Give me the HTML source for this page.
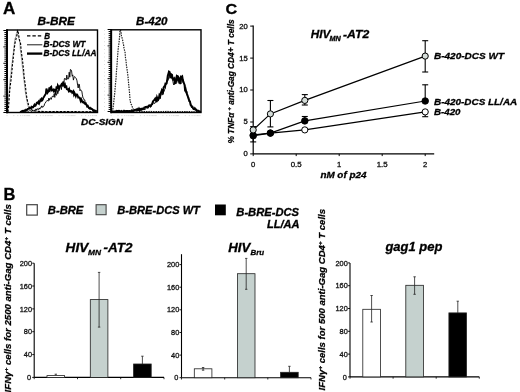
<!DOCTYPE html>
<html><head><meta charset="utf-8"><style>
html,body{margin:0;padding:0;background:#fff;}
svg{display:block;will-change:transform;}
</style></head><body>
<svg width="520" height="392" viewBox="0 0 520 392">
<rect width="520" height="392" fill="#fff"/>
<text x="3.0" y="13.6" font-family="'Liberation Sans', sans-serif" font-size="16.2" font-weight="bold" stroke="#000" stroke-width="0.3" textLength="12.3" lengthAdjust="spacingAndGlyphs">A</text>
<text x="37.6" y="25.1" font-family="'Liberation Sans', sans-serif" font-size="10.9" font-weight="bold" stroke="#000" stroke-width="0.3" font-style="italic" textLength="37.4" lengthAdjust="spacingAndGlyphs">B-BRE</text>
<text x="136.1" y="25.0" font-family="'Liberation Sans', sans-serif" font-size="11.1" font-weight="bold" stroke="#000" stroke-width="0.3" font-style="italic" textLength="31.4" lengthAdjust="spacingAndGlyphs">B-420</text>
<text x="81.0" y="124.8" font-family="'Liberation Sans', sans-serif" font-size="9.8" font-weight="bold" stroke="#000" stroke-width="0.3" font-style="italic" textLength="42.0" lengthAdjust="spacingAndGlyphs">DC-SIGN</text>
<polyline points="7.3,111.9 7.8,108.0 8.3,100.5 8.8,93.9 9.3,89.0 9.8,83.0 10.3,77.9 10.8,74.9 11.3,69.1 11.8,64.4 12.3,61.8 12.8,56.0 13.3,53.0 13.8,47.9 14.3,44.4 14.8,38.8 15.3,38.0 15.8,36.7 16.3,33.7 16.8,32.5 17.3,32.0 17.8,32.4 18.3,36.9 18.8,38.8 19.3,40.2 19.8,43.1 20.3,49.6 20.8,52.5 21.3,57.2 21.8,61.8 22.3,65.9 22.8,70.9 23.3,74.2 23.8,79.6 24.3,83.0 24.8,87.9 25.3,91.8 25.8,94.7 26.3,97.8 26.8,100.2 27.3,103.3 27.8,105.0 28.3,107.1 28.8,107.4 29.3,108.1 29.8,108.5 30.3,109.0 30.8,109.7 31.3,110.2 31.8,110.7 32.3,110.7 32.8,110.8 33.3,110.9 33.8,111.0 34.3,110.9 34.8,110.8 35.3,111.1 35.8,111.2 36.3,111.3 36.8,111.2 37.3,111.4 37.8,111.3 38.3,111.5 38.8,111.5 39.3,111.4 39.8,111.4 40.3,111.6 40.8,111.6 41.3,111.4 41.8,111.6 42.3,111.5 42.8,111.4 43.3,111.5 43.8,111.6 44.3,111.6 44.8,111.4 45.3,111.6 45.8,111.4 46.3,111.6 46.8,111.5 47.3,111.6 47.8,111.7 48.3,111.6 48.8,111.7 49.3,111.5 49.8,111.5 50.3,111.6 50.8,111.4 51.3,111.5 51.8,111.5 52.3,111.6 52.8,111.5 53.3,111.5 53.8,111.7 54.3,111.5 54.8,111.7 55.3,111.7 55.8,111.6 56.3,111.6 56.8,111.6 57.3,111.6 57.8,111.6 58.3,111.6 58.8,111.6 59.3,111.7 59.8,111.6 60.3,111.6 60.8,111.7 61.3,111.6 61.8,111.6 62.3,111.7 62.8,111.6 63.3,111.6 63.8,111.5 64.3,111.6 64.8,111.7 65.3,111.5 65.8,111.7 66.3,111.7 66.8,111.5 67.3,111.7 67.8,111.6 68.3,111.7 68.8,111.6 69.3,111.7 69.8,111.7 70.3,111.5 70.8,111.6 71.3,111.7 71.8,111.8 72.3,111.6 72.8,111.7 73.3,111.7 73.8,111.6 74.3,111.7 74.8,111.6 75.3,111.7 75.8,111.7 76.3,111.6 76.8,111.7 77.3,111.8 77.8,111.6 78.3,111.7 78.8,111.8 79.3,111.7 79.8,111.6 80.3,111.8 80.8,111.7 81.3,111.6 81.8,111.7 82.3,111.8 82.8,111.6 83.3,111.7 83.8,111.7 84.3,111.8 84.8,111.7 85.3,111.8 85.8,111.7 86.3,111.7 86.8,111.8 87.3,111.9 87.8,111.7 88.3,111.7 88.8,111.7 89.3,111.8 89.8,111.7 90.3,111.8 90.8,111.9 91.3,111.7 91.8,111.7 92.3,111.9 92.8,111.8 93.3,111.9 93.8,111.8 94.3,111.7 94.8,111.7 95.3,111.9 95.8,111.7" fill="none" stroke="#999" stroke-width="0.8"/>
<polyline points="8.0,111.9 8.5,107.6 9.0,100.5 9.5,93.0 10.0,87.8 10.5,83.6 11.0,80.0 11.5,75.0 12.0,70.4 12.5,64.2 13.0,60.7 13.5,55.3 14.0,50.9 14.5,46.6 15.0,42.9 15.5,41.5 16.0,38.8 16.5,36.8 17.0,34.8 17.5,30.4 18.0,30.7 18.5,34.3 19.0,37.0 19.5,39.9 20.0,42.3 20.5,43.0 21.0,48.9 21.5,53.2 22.0,56.6 22.5,59.8 23.0,65.3 23.5,68.7 24.0,75.7 24.5,79.9 25.0,83.2 25.5,86.7 26.0,92.0 26.5,95.4 27.0,98.9 27.5,101.1 28.0,102.8 28.5,105.0 29.0,107.1 29.5,107.5 30.0,107.8 30.5,108.4 31.0,109.4 31.5,109.3 32.0,109.9 32.5,110.6 33.0,110.5 33.5,110.7 34.0,110.7 34.5,110.7 35.0,111.1 35.5,110.8 36.0,111.0 36.5,111.0 37.0,111.2 37.5,111.1 38.0,111.2 38.5,111.4 39.0,111.4 39.5,111.5 40.0,111.6 40.5,111.4 41.0,111.4 41.5,111.4 42.0,111.6 42.5,111.6 43.0,111.4 43.5,111.5 44.0,111.4 44.5,111.5 45.0,111.4 45.5,111.6 46.0,111.7 46.5,111.7 47.0,111.6 47.5,111.7 48.0,111.4 48.5,111.5 49.0,111.7 49.5,111.6 50.0,111.5 50.5,111.7 51.0,111.6 51.5,111.7 52.0,111.5 52.5,111.5 53.0,111.6 53.5,111.5 54.0,111.5 54.5,111.7 55.0,111.5 55.5,111.4 56.0,111.4 56.5,111.5 57.0,111.7 57.5,111.6 58.0,111.5 58.5,111.5 59.0,111.8 59.5,111.6 60.0,111.5 60.5,111.5 61.0,111.5 61.5,111.5 62.0,111.7 62.5,111.5 63.0,111.5 63.5,111.6 64.0,111.5 64.5,111.8 65.0,111.5 65.5,111.6 66.0,111.7 66.5,111.6 67.0,111.8 67.5,111.6 68.0,111.6 68.5,111.6 69.0,111.5 69.5,111.6 70.0,111.6 70.5,111.8 71.0,111.8 71.5,111.7 72.0,111.5 72.5,111.6 73.0,111.6 73.5,111.6 74.0,111.6 74.5,111.8 75.0,111.6 75.5,111.5 76.0,111.8 76.5,111.7 77.0,111.9 77.5,111.7 78.0,111.8 78.5,111.8 79.0,111.8 79.5,111.8 80.0,111.7 80.5,111.6 81.0,111.6 81.5,111.8 82.0,111.9 82.5,111.9 83.0,111.7 83.5,111.8 84.0,111.8 84.5,111.8 85.0,111.8 85.5,111.8 86.0,111.8 86.5,111.8 87.0,111.7 87.5,111.9 88.0,111.9 88.5,111.6 89.0,111.9 89.5,111.9 90.0,111.8 90.5,111.6 91.0,111.9 91.5,111.7 92.0,111.9 92.5,111.8 93.0,111.6 93.5,111.7 94.0,111.8 94.5,111.8 95.0,111.9 95.5,111.9 96.0,111.7 96.5,111.6" fill="none" stroke="#000" stroke-width="1.15" stroke-dasharray="2.4,1.4"/>
<polyline points="20.0,111.9 20.6,112.0 21.2,112.0 21.8,112.0 22.4,111.8 23.0,111.9 23.6,111.1 24.2,111.5 24.8,111.8 25.4,111.5 26.0,111.7 26.6,110.9 27.2,111.2 27.8,111.0 28.4,111.2 29.0,111.2 29.6,110.6 30.2,110.7 30.8,110.8 31.4,111.5 32.0,111.2 32.6,110.5 33.2,111.2 33.8,110.3 34.4,110.7 35.0,109.6 35.6,109.1 36.2,110.3 36.8,108.9 37.4,108.6 38.0,109.9 38.6,109.4 39.2,107.9 39.8,109.2 40.4,107.8 41.0,107.7 41.6,105.9 42.2,107.5 42.8,106.3 43.4,106.7 44.0,106.0 44.6,103.7 45.2,103.3 45.8,102.0 46.4,101.3 47.0,100.4 47.6,100.6 48.2,101.2 48.8,98.2 49.4,100.3 50.0,98.3 50.6,97.7 51.2,99.4 51.8,97.5 52.4,96.2 53.0,96.5 53.6,97.1 54.2,93.5 54.8,97.4 55.4,92.3 56.0,95.2 56.6,95.1 57.2,90.3 57.8,93.7 58.4,90.7 59.0,90.9 59.6,86.9 60.2,86.1 60.8,86.0 61.4,89.6 62.0,84.2 62.6,85.8 63.2,85.1 63.8,83.5 64.4,78.6 65.0,78.2 65.6,78.9 66.2,80.1 66.8,75.1 67.4,79.0 68.0,78.9 68.6,78.8 69.2,72.2 69.8,77.2 70.4,69.5 71.0,69.8 71.6,71.0 72.2,76.2 72.8,74.9 73.4,80.1 74.0,77.8 74.6,76.5 75.2,77.3 75.8,77.9 76.4,78.8 77.0,80.8 77.6,85.2 78.2,88.0 78.8,84.0 79.4,84.4 80.0,90.8 80.6,89.7 81.2,90.5 81.8,91.1 82.4,94.9 83.0,98.0 83.6,98.4 84.2,100.1 84.8,99.9 85.4,104.3 86.0,102.5 86.6,105.2 87.2,107.1 87.8,105.6 88.4,107.7 89.0,108.7 89.6,108.4 90.2,109.2 90.8,108.2 91.4,109.4 92.0,109.4 92.6,110.7 93.2,110.1 93.8,110.5 94.4,111.4 95.0,111.3 95.6,111.6 96.2,111.2 96.8,111.4" fill="none" stroke="#000" stroke-width="0.9"/>
<polyline points="20.0,112.0 20.6,111.8 21.2,111.5 21.8,111.2 22.4,110.8 23.0,111.2 23.6,110.8 24.2,111.0 24.8,110.4 25.4,110.6 26.0,109.7 26.6,110.1 27.2,109.7 27.8,109.0 28.4,108.9 29.0,108.8 29.6,107.7 30.2,108.0 30.8,108.2 31.4,106.9 32.0,107.6 32.6,107.1 33.2,107.2 33.8,105.8 34.4,104.7 35.0,105.9 35.6,105.5 36.2,104.1 36.8,102.8 37.4,102.5 38.0,103.2 38.6,101.8 39.2,103.2 39.8,101.6 40.4,99.8 41.0,100.5 41.6,99.0 42.2,100.2 42.8,99.5 43.4,97.5 44.0,97.0 44.6,95.7 45.2,94.7 45.8,93.9 46.4,88.5 47.0,90.3 47.6,92.6 48.2,91.7 48.8,91.2 49.4,87.5 50.0,89.4 50.6,87.2 51.2,86.7 51.8,90.4 52.4,90.2 53.0,89.7 53.6,90.9 54.2,89.5 54.8,89.8 55.4,91.9 56.0,90.3 56.6,86.5 57.2,89.2 57.8,85.5 58.4,86.7 59.0,89.0 59.6,87.5 60.2,85.6 60.8,85.3 61.4,84.8 62.0,83.0 62.6,86.5 63.2,81.5 63.8,83.8 64.4,85.9 65.0,84.8 65.6,88.1 66.2,85.3 66.8,89.2 67.4,89.5 68.0,89.2 68.6,90.7 69.2,89.2 69.8,91.3 70.4,91.6 71.0,90.9 71.6,91.2 72.2,92.7 72.8,92.1 73.4,91.3 74.0,94.5 74.6,93.1 75.2,94.5 75.8,96.1 76.4,94.4 77.0,94.4 77.6,95.3 78.2,97.5 78.8,97.3 79.4,97.5 80.0,98.7 80.6,100.7 81.2,99.1 81.8,100.3 82.4,102.3 83.0,102.2 83.6,101.8 84.2,103.1 84.8,103.7 85.4,103.4 86.0,104.5 86.6,104.8 87.2,106.4 87.8,105.9 88.4,107.0 89.0,108.1 89.6,108.5 90.2,107.9 90.8,108.7 91.4,108.6 92.0,109.0 92.6,109.5 93.2,110.3 93.8,110.8 94.4,110.4 95.0,110.6 95.6,111.1 96.2,111.0 96.8,111.1" fill="none" stroke="#000" stroke-width="1.9"/>
<line x1="3.4" y1="30.50" x2="7" y2="30.50" stroke="#000" stroke-width="1"/>
<line x1="4.4" y1="32.55" x2="7" y2="32.55" stroke="#000" stroke-width="1"/>
<line x1="4.4" y1="34.60" x2="7" y2="34.60" stroke="#000" stroke-width="1"/>
<line x1="4.4" y1="36.65" x2="7" y2="36.65" stroke="#000" stroke-width="1"/>
<line x1="4.4" y1="38.70" x2="7" y2="38.70" stroke="#000" stroke-width="1"/>
<line x1="4.4" y1="40.75" x2="7" y2="40.75" stroke="#000" stroke-width="1"/>
<line x1="4.4" y1="42.80" x2="7" y2="42.80" stroke="#000" stroke-width="1"/>
<line x1="4.4" y1="44.85" x2="7" y2="44.85" stroke="#000" stroke-width="1"/>
<line x1="3.4" y1="46.90" x2="7" y2="46.90" stroke="#000" stroke-width="1"/>
<line x1="4.4" y1="48.95" x2="7" y2="48.95" stroke="#000" stroke-width="1"/>
<line x1="4.4" y1="51.00" x2="7" y2="51.00" stroke="#000" stroke-width="1"/>
<line x1="4.4" y1="53.05" x2="7" y2="53.05" stroke="#000" stroke-width="1"/>
<line x1="4.4" y1="55.10" x2="7" y2="55.10" stroke="#000" stroke-width="1"/>
<line x1="4.4" y1="57.15" x2="7" y2="57.15" stroke="#000" stroke-width="1"/>
<line x1="4.4" y1="59.20" x2="7" y2="59.20" stroke="#000" stroke-width="1"/>
<line x1="4.4" y1="61.25" x2="7" y2="61.25" stroke="#000" stroke-width="1"/>
<line x1="3.4" y1="63.30" x2="7" y2="63.30" stroke="#000" stroke-width="1"/>
<line x1="4.4" y1="65.35" x2="7" y2="65.35" stroke="#000" stroke-width="1"/>
<line x1="4.4" y1="67.40" x2="7" y2="67.40" stroke="#000" stroke-width="1"/>
<line x1="4.4" y1="69.45" x2="7" y2="69.45" stroke="#000" stroke-width="1"/>
<line x1="4.4" y1="71.50" x2="7" y2="71.50" stroke="#000" stroke-width="1"/>
<line x1="4.4" y1="73.55" x2="7" y2="73.55" stroke="#000" stroke-width="1"/>
<line x1="4.4" y1="75.60" x2="7" y2="75.60" stroke="#000" stroke-width="1"/>
<line x1="4.4" y1="77.65" x2="7" y2="77.65" stroke="#000" stroke-width="1"/>
<line x1="3.4" y1="79.70" x2="7" y2="79.70" stroke="#000" stroke-width="1"/>
<line x1="4.4" y1="81.75" x2="7" y2="81.75" stroke="#000" stroke-width="1"/>
<line x1="4.4" y1="83.80" x2="7" y2="83.80" stroke="#000" stroke-width="1"/>
<line x1="4.4" y1="85.85" x2="7" y2="85.85" stroke="#000" stroke-width="1"/>
<line x1="4.4" y1="87.90" x2="7" y2="87.90" stroke="#000" stroke-width="1"/>
<line x1="4.4" y1="89.95" x2="7" y2="89.95" stroke="#000" stroke-width="1"/>
<line x1="4.4" y1="92.00" x2="7" y2="92.00" stroke="#000" stroke-width="1"/>
<line x1="4.4" y1="94.05" x2="7" y2="94.05" stroke="#000" stroke-width="1"/>
<line x1="3.4" y1="96.10" x2="7" y2="96.10" stroke="#000" stroke-width="1"/>
<line x1="4.4" y1="98.15" x2="7" y2="98.15" stroke="#000" stroke-width="1"/>
<line x1="4.4" y1="100.20" x2="7" y2="100.20" stroke="#000" stroke-width="1"/>
<line x1="4.4" y1="102.25" x2="7" y2="102.25" stroke="#000" stroke-width="1"/>
<line x1="4.4" y1="104.30" x2="7" y2="104.30" stroke="#000" stroke-width="1"/>
<line x1="4.4" y1="106.35" x2="7" y2="106.35" stroke="#000" stroke-width="1"/>
<line x1="4.4" y1="108.40" x2="7" y2="108.40" stroke="#000" stroke-width="1"/>
<line x1="4.4" y1="110.45" x2="7" y2="110.45" stroke="#000" stroke-width="1"/>
<line x1="3.4" y1="112.50" x2="7" y2="112.50" stroke="#000" stroke-width="1"/>
<line x1="7.0" y1="115.1" x2="7.0" y2="116.1" stroke="#ccc" stroke-width="0.8"/>
<line x1="13.8" y1="115.1" x2="13.8" y2="116.1" stroke="#ccc" stroke-width="0.8"/>
<line x1="17.8" y1="115.1" x2="17.8" y2="116.1" stroke="#ccc" stroke-width="0.8"/>
<line x1="20.6" y1="115.1" x2="20.6" y2="116.1" stroke="#ccc" stroke-width="0.8"/>
<line x1="22.8" y1="115.1" x2="22.8" y2="116.1" stroke="#ccc" stroke-width="0.8"/>
<line x1="24.6" y1="115.1" x2="24.6" y2="116.1" stroke="#ccc" stroke-width="0.8"/>
<line x1="26.1" y1="115.1" x2="26.1" y2="116.1" stroke="#ccc" stroke-width="0.8"/>
<line x1="27.4" y1="115.1" x2="27.4" y2="116.1" stroke="#ccc" stroke-width="0.8"/>
<line x1="28.6" y1="115.1" x2="28.6" y2="116.1" stroke="#ccc" stroke-width="0.8"/>
<line x1="29.6" y1="115.1" x2="29.6" y2="116.1" stroke="#ccc" stroke-width="0.8"/>
<line x1="36.4" y1="115.1" x2="36.4" y2="116.1" stroke="#ccc" stroke-width="0.8"/>
<line x1="40.4" y1="115.1" x2="40.4" y2="116.1" stroke="#ccc" stroke-width="0.8"/>
<line x1="43.2" y1="115.1" x2="43.2" y2="116.1" stroke="#ccc" stroke-width="0.8"/>
<line x1="45.4" y1="115.1" x2="45.4" y2="116.1" stroke="#ccc" stroke-width="0.8"/>
<line x1="47.2" y1="115.1" x2="47.2" y2="116.1" stroke="#ccc" stroke-width="0.8"/>
<line x1="48.7" y1="115.1" x2="48.7" y2="116.1" stroke="#ccc" stroke-width="0.8"/>
<line x1="50.1" y1="115.1" x2="50.1" y2="116.1" stroke="#ccc" stroke-width="0.8"/>
<line x1="51.2" y1="115.1" x2="51.2" y2="116.1" stroke="#ccc" stroke-width="0.8"/>
<line x1="52.2" y1="115.1" x2="52.2" y2="116.1" stroke="#ccc" stroke-width="0.8"/>
<line x1="59.1" y1="115.1" x2="59.1" y2="116.1" stroke="#ccc" stroke-width="0.8"/>
<line x1="63.0" y1="115.1" x2="63.0" y2="116.1" stroke="#ccc" stroke-width="0.8"/>
<line x1="65.9" y1="115.1" x2="65.9" y2="116.1" stroke="#ccc" stroke-width="0.8"/>
<line x1="68.1" y1="115.1" x2="68.1" y2="116.1" stroke="#ccc" stroke-width="0.8"/>
<line x1="69.9" y1="115.1" x2="69.9" y2="116.1" stroke="#ccc" stroke-width="0.8"/>
<line x1="71.4" y1="115.1" x2="71.4" y2="116.1" stroke="#ccc" stroke-width="0.8"/>
<line x1="72.7" y1="115.1" x2="72.7" y2="116.1" stroke="#ccc" stroke-width="0.8"/>
<line x1="73.8" y1="115.1" x2="73.8" y2="116.1" stroke="#ccc" stroke-width="0.8"/>
<line x1="74.9" y1="115.1" x2="74.9" y2="116.1" stroke="#ccc" stroke-width="0.8"/>
<line x1="81.7" y1="115.1" x2="81.7" y2="116.1" stroke="#ccc" stroke-width="0.8"/>
<line x1="85.7" y1="115.1" x2="85.7" y2="116.1" stroke="#ccc" stroke-width="0.8"/>
<line x1="88.5" y1="115.1" x2="88.5" y2="116.1" stroke="#ccc" stroke-width="0.8"/>
<line x1="90.7" y1="115.1" x2="90.7" y2="116.1" stroke="#ccc" stroke-width="0.8"/>
<line x1="92.5" y1="115.1" x2="92.5" y2="116.1" stroke="#ccc" stroke-width="0.8"/>
<line x1="94.0" y1="115.1" x2="94.0" y2="116.1" stroke="#ccc" stroke-width="0.8"/>
<line x1="95.3" y1="115.1" x2="95.3" y2="116.1" stroke="#ccc" stroke-width="0.8"/>
<line x1="96.5" y1="115.1" x2="96.5" y2="116.1" stroke="#ccc" stroke-width="0.8"/>
<rect x="7" y="30" width="90.5" height="82.5" fill="none" stroke="#000" stroke-width="1.4"/>
<line x1="7" y1="29.3" x2="7" y2="113.2" stroke="#000" stroke-width="1.9"/>
<line x1="27" y1="35.8" x2="42.3" y2="35.8" stroke="#000" stroke-width="1.3" stroke-dasharray="3.4,2"/>
<line x1="27" y1="44.8" x2="42.3" y2="44.8" stroke="#000" stroke-width="0.9"/>
<line x1="27" y1="53.6" x2="42.3" y2="53.6" stroke="#000" stroke-width="2.3"/>
<text x="44.2" y="38.7" font-family="'Liberation Sans', sans-serif" font-size="8.2" font-weight="bold" stroke="#000" stroke-width="0.3" font-style="italic" textLength="5.8" lengthAdjust="spacingAndGlyphs">B</text>
<text x="43.6" y="47.1" font-family="'Liberation Sans', sans-serif" font-size="8.2" font-weight="bold" stroke="#000" stroke-width="0.3" font-style="italic" textLength="41.8" lengthAdjust="spacingAndGlyphs">B-DCS WT</text>
<text x="43.6" y="56.3" font-family="'Liberation Sans', sans-serif" font-size="8.2" font-weight="bold" stroke="#000" stroke-width="0.3" font-style="italic" textLength="52.8" lengthAdjust="spacingAndGlyphs">B-DCS LL/AA</text>
<polyline points="112.0,111.9 112.5,110.1 113.0,108.2 113.5,104.6 114.0,99.6 114.5,95.7 115.0,90.0 115.5,83.8 116.0,79.0 116.5,70.7 117.0,65.4 117.5,57.5 118.0,51.1 118.5,45.9 119.0,43.1 119.5,37.5 120.0,30.0 120.5,30.4 121.0,31.4 121.5,36.5 122.0,37.8 122.5,39.4 123.0,42.2 123.5,44.5 124.0,48.2 124.5,50.2 125.0,51.5 125.5,58.0 126.0,60.7 126.5,65.8 127.0,69.1 127.5,72.7 128.0,76.6 128.5,82.2 129.0,87.4 129.5,92.5 130.0,99.4 130.5,102.3 131.0,104.0 131.5,104.8 132.0,106.0 132.5,107.6 133.0,108.3 133.5,110.1 134.0,110.1 134.5,110.0 135.0,110.2 135.5,110.5 136.0,110.5 136.5,110.7 137.0,110.9 137.5,110.9 138.0,110.9 138.5,111.2 139.0,111.2 139.5,111.4 140.0,111.5 140.5,111.6 141.0,111.4 141.5,111.7 142.0,111.8 142.5,111.6 143.0,111.7 143.5,111.8 144.0,111.4 144.5,111.5 145.0,111.7 145.5,111.7 146.0,111.7 146.5,111.5 147.0,111.6 147.5,111.8 148.0,111.8 148.5,111.7 149.0,111.5 149.5,111.8 150.0,111.6 150.5,111.7 151.0,111.5 151.5,111.8 152.0,111.7 152.5,111.7 153.0,111.5 153.5,111.7 154.0,111.7 154.5,111.7 155.0,111.6 155.5,111.7 156.0,111.6 156.5,111.6 157.0,111.5 157.5,111.7 158.0,111.5 158.5,111.6 159.0,111.5 159.5,111.7 160.0,111.7 160.5,111.7 161.0,111.5 161.5,111.6 162.0,111.6 162.5,111.5 163.0,111.5 163.5,111.9 164.0,111.5 164.5,111.6 165.0,111.6 165.5,111.7 166.0,111.5 166.5,111.7 167.0,111.6 167.5,111.8 168.0,111.5 168.5,111.6 169.0,111.7 169.5,111.9 170.0,111.7 170.5,111.7 171.0,111.8 171.5,111.6 172.0,111.5 172.5,111.7 173.0,111.9 173.5,111.8 174.0,111.6 174.5,111.8 175.0,111.8 175.5,111.6 176.0,111.8 176.5,111.7 177.0,111.6 177.5,111.6 178.0,111.6 178.5,111.7 179.0,111.6 179.5,111.7 180.0,111.6 180.5,111.8 181.0,111.8 181.5,111.5 182.0,111.8 182.5,111.6 183.0,111.7 183.5,111.8 184.0,111.7 184.5,111.7 185.0,111.7 185.5,111.6 186.0,111.9 186.5,111.6 187.0,111.9 187.5,111.6 188.0,111.7 188.5,111.7 189.0,111.6 189.5,111.6 190.0,111.7 190.5,111.7 191.0,111.9 191.5,112.0 192.0,111.6 192.5,111.8 193.0,111.6 193.5,111.9 194.0,111.7 194.5,111.9 195.0,111.8 195.5,111.6 196.0,111.6 196.5,111.7 197.0,111.9 197.5,111.7 198.0,111.8 198.5,111.7 199.0,111.7 199.5,111.9 200.0,111.7 200.5,111.9 201.0,111.9" fill="none" stroke="#222" stroke-width="1.2" stroke-dasharray="1.5,1"/>
<polyline points="112.4,112.0 113.0,111.6 113.6,112.0 114.2,111.7 114.8,112.0 115.4,111.6 116.0,112.0 116.6,112.0 117.2,112.0 117.8,112.0 118.4,111.8 119.0,111.9 119.6,112.0 120.2,111.8 120.8,111.8 121.4,111.8 122.0,112.0 122.6,112.0 123.2,112.0 123.8,111.8 124.4,112.0 125.0,112.0 125.6,111.8 126.2,112.0 126.8,111.9 127.4,111.7 128.0,112.0 128.6,111.9 129.2,112.0 129.8,112.0 130.4,112.0 131.0,111.8 131.6,112.0 132.2,112.0 132.8,111.5 133.4,111.8 134.0,110.8 134.6,110.8 135.2,110.7 135.8,111.5 136.4,111.1 137.0,111.0 137.6,110.3 138.2,110.5 138.8,110.9 139.4,109.6 140.0,109.5 140.6,109.2 141.2,109.8 141.8,110.3 142.4,109.7 143.0,109.3 143.6,109.4 144.2,108.6 144.8,110.0 145.4,108.5 146.0,107.9 146.6,107.7 147.2,108.6 147.8,107.0 148.4,108.2 149.0,106.4 149.6,106.4 150.2,105.0 150.8,107.0 151.4,106.1 152.0,104.5 152.6,102.8 153.2,103.4 153.8,102.4 154.4,103.5 155.0,103.3 155.6,102.1 156.2,99.8 156.8,98.4 157.4,101.4 158.0,101.2 158.6,97.4 159.2,98.4 159.8,97.4 160.4,98.6 161.0,93.2 161.6,92.2 162.2,95.1 162.8,92.7 163.4,91.1 164.0,91.7 164.6,89.6 165.2,89.0 165.8,85.4 166.4,82.4 167.0,79.9 167.6,80.0 168.2,80.3 168.8,76.6 169.4,73.3 170.0,72.8 170.6,76.9 171.2,78.4 171.8,76.2 172.4,79.5 173.0,81.8 173.6,84.9 174.2,84.1 174.8,76.8 175.4,83.2 176.0,83.9 176.6,78.3 177.2,75.0 177.8,75.9 178.4,80.2 179.0,83.5 179.6,77.7 180.2,83.5 180.8,84.0 181.4,77.9 182.0,76.9 182.6,80.6 183.2,83.0 183.8,82.9 184.4,83.4 185.0,86.2 185.6,91.9 186.2,92.8 186.8,91.2 187.4,96.4 188.0,96.7 188.6,97.4 189.2,101.7 189.8,100.6 190.4,102.5 191.0,104.8 191.6,106.8 192.2,107.1 192.8,107.9 193.4,109.7 194.0,109.0 194.6,110.1 195.2,109.0 195.8,110.7 196.4,110.1 197.0,111.1 197.6,111.6 198.2,111.8 198.8,111.9 199.4,111.9 200.0,112.0 200.6,111.8 201.2,111.8" fill="none" stroke="#000" stroke-width="0.9"/>
<polyline points="112.0,111.7 112.6,111.7 113.2,111.6 113.8,111.6 114.4,111.5 115.0,111.6 115.6,111.3 116.2,111.5 116.8,110.9 117.4,111.1 118.0,111.1 118.6,110.9 119.2,111.4 119.8,111.0 120.4,111.5 121.0,111.6 121.6,111.0 122.2,111.5 122.8,111.5 123.4,111.3 124.0,110.8 124.6,111.2 125.2,111.3 125.8,111.0 126.4,111.0 127.0,111.0 127.6,111.0 128.2,111.5 128.8,111.1 129.4,111.1 130.0,111.3 130.6,111.5 131.2,110.8 131.8,110.4 132.4,111.3 133.0,111.0 133.6,110.9 134.2,110.4 134.8,109.9 135.4,109.7 136.0,109.8 136.6,109.9 137.2,109.2 137.8,110.0 138.4,109.9 139.0,108.7 139.6,109.9 140.2,109.2 140.8,109.8 141.4,108.9 142.0,109.3 142.6,108.6 143.2,108.8 143.8,108.4 144.4,107.4 145.0,107.3 145.6,107.1 146.2,107.1 146.8,106.7 147.4,106.8 148.0,106.8 148.6,105.8 149.2,105.3 149.8,105.4 150.4,106.2 151.0,105.2 151.6,104.3 152.2,104.2 152.8,101.8 153.4,100.8 154.0,100.2 154.6,99.6 155.2,98.7 155.8,100.3 156.4,100.9 157.0,97.6 157.6,99.2 158.2,99.7 158.8,98.6 159.4,95.3 160.0,96.2 160.6,93.6 161.2,92.2 161.8,90.4 162.4,91.6 163.0,92.4 163.6,87.5 164.2,86.5 164.8,86.6 165.4,83.7 166.0,83.9 166.6,83.5 167.2,80.1 167.8,75.8 168.4,73.8 169.0,71.7 169.6,72.1 170.2,77.2 170.8,76.9 171.4,74.4 172.0,74.8 172.6,78.6 173.2,79.4 173.8,78.6 174.4,78.9 175.0,83.1 175.6,82.6 176.2,80.5 176.8,76.4 177.4,77.1 178.0,79.5 178.6,77.7 179.2,79.0 179.8,81.8 180.4,84.0 181.0,76.7 181.6,76.9 182.2,76.4 182.8,79.8 183.4,82.0 184.0,83.3 184.6,85.1 185.2,91.4 185.8,89.9 186.4,92.4 187.0,94.1 187.6,95.5 188.2,97.7 188.8,99.3 189.4,101.1 190.0,101.8 190.6,104.8 191.2,105.8 191.8,106.8 192.4,106.7 193.0,107.9 193.6,108.9 194.2,109.1 194.8,108.3 195.4,109.2 196.0,109.3 196.6,110.4 197.2,110.4 197.8,110.8 198.4,110.8 199.0,111.2 199.6,111.6 200.2,111.7 200.8,111.6" fill="none" stroke="#000" stroke-width="2"/>
<line x1="107.6" y1="29.50" x2="111.2" y2="29.50" stroke="#000" stroke-width="1"/>
<line x1="108.6" y1="31.55" x2="111.2" y2="31.55" stroke="#000" stroke-width="1"/>
<line x1="108.6" y1="33.60" x2="111.2" y2="33.60" stroke="#000" stroke-width="1"/>
<line x1="108.6" y1="35.65" x2="111.2" y2="35.65" stroke="#000" stroke-width="1"/>
<line x1="108.6" y1="37.70" x2="111.2" y2="37.70" stroke="#000" stroke-width="1"/>
<line x1="108.6" y1="39.75" x2="111.2" y2="39.75" stroke="#000" stroke-width="1"/>
<line x1="108.6" y1="41.80" x2="111.2" y2="41.80" stroke="#000" stroke-width="1"/>
<line x1="108.6" y1="43.85" x2="111.2" y2="43.85" stroke="#000" stroke-width="1"/>
<line x1="107.6" y1="45.90" x2="111.2" y2="45.90" stroke="#000" stroke-width="1"/>
<line x1="108.6" y1="47.95" x2="111.2" y2="47.95" stroke="#000" stroke-width="1"/>
<line x1="108.6" y1="50.00" x2="111.2" y2="50.00" stroke="#000" stroke-width="1"/>
<line x1="108.6" y1="52.05" x2="111.2" y2="52.05" stroke="#000" stroke-width="1"/>
<line x1="108.6" y1="54.10" x2="111.2" y2="54.10" stroke="#000" stroke-width="1"/>
<line x1="108.6" y1="56.15" x2="111.2" y2="56.15" stroke="#000" stroke-width="1"/>
<line x1="108.6" y1="58.20" x2="111.2" y2="58.20" stroke="#000" stroke-width="1"/>
<line x1="108.6" y1="60.25" x2="111.2" y2="60.25" stroke="#000" stroke-width="1"/>
<line x1="107.6" y1="62.30" x2="111.2" y2="62.30" stroke="#000" stroke-width="1"/>
<line x1="108.6" y1="64.35" x2="111.2" y2="64.35" stroke="#000" stroke-width="1"/>
<line x1="108.6" y1="66.40" x2="111.2" y2="66.40" stroke="#000" stroke-width="1"/>
<line x1="108.6" y1="68.45" x2="111.2" y2="68.45" stroke="#000" stroke-width="1"/>
<line x1="108.6" y1="70.50" x2="111.2" y2="70.50" stroke="#000" stroke-width="1"/>
<line x1="108.6" y1="72.55" x2="111.2" y2="72.55" stroke="#000" stroke-width="1"/>
<line x1="108.6" y1="74.60" x2="111.2" y2="74.60" stroke="#000" stroke-width="1"/>
<line x1="108.6" y1="76.65" x2="111.2" y2="76.65" stroke="#000" stroke-width="1"/>
<line x1="107.6" y1="78.70" x2="111.2" y2="78.70" stroke="#000" stroke-width="1"/>
<line x1="108.6" y1="80.75" x2="111.2" y2="80.75" stroke="#000" stroke-width="1"/>
<line x1="108.6" y1="82.80" x2="111.2" y2="82.80" stroke="#000" stroke-width="1"/>
<line x1="108.6" y1="84.85" x2="111.2" y2="84.85" stroke="#000" stroke-width="1"/>
<line x1="108.6" y1="86.90" x2="111.2" y2="86.90" stroke="#000" stroke-width="1"/>
<line x1="108.6" y1="88.95" x2="111.2" y2="88.95" stroke="#000" stroke-width="1"/>
<line x1="108.6" y1="91.00" x2="111.2" y2="91.00" stroke="#000" stroke-width="1"/>
<line x1="108.6" y1="93.05" x2="111.2" y2="93.05" stroke="#000" stroke-width="1"/>
<line x1="107.6" y1="95.10" x2="111.2" y2="95.10" stroke="#000" stroke-width="1"/>
<line x1="108.6" y1="97.15" x2="111.2" y2="97.15" stroke="#000" stroke-width="1"/>
<line x1="108.6" y1="99.20" x2="111.2" y2="99.20" stroke="#000" stroke-width="1"/>
<line x1="108.6" y1="101.25" x2="111.2" y2="101.25" stroke="#000" stroke-width="1"/>
<line x1="108.6" y1="103.30" x2="111.2" y2="103.30" stroke="#000" stroke-width="1"/>
<line x1="108.6" y1="105.35" x2="111.2" y2="105.35" stroke="#000" stroke-width="1"/>
<line x1="108.6" y1="107.40" x2="111.2" y2="107.40" stroke="#000" stroke-width="1"/>
<line x1="108.6" y1="109.45" x2="111.2" y2="109.45" stroke="#000" stroke-width="1"/>
<line x1="107.6" y1="111.50" x2="111.2" y2="111.50" stroke="#000" stroke-width="1"/>
<line x1="111.2" y1="115.1" x2="111.2" y2="116.1" stroke="#ccc" stroke-width="0.8"/>
<line x1="118.0" y1="115.1" x2="118.0" y2="116.1" stroke="#ccc" stroke-width="0.8"/>
<line x1="121.9" y1="115.1" x2="121.9" y2="116.1" stroke="#ccc" stroke-width="0.8"/>
<line x1="124.7" y1="115.1" x2="124.7" y2="116.1" stroke="#ccc" stroke-width="0.8"/>
<line x1="126.9" y1="115.1" x2="126.9" y2="116.1" stroke="#ccc" stroke-width="0.8"/>
<line x1="128.7" y1="115.1" x2="128.7" y2="116.1" stroke="#ccc" stroke-width="0.8"/>
<line x1="130.2" y1="115.1" x2="130.2" y2="116.1" stroke="#ccc" stroke-width="0.8"/>
<line x1="131.5" y1="115.1" x2="131.5" y2="116.1" stroke="#ccc" stroke-width="0.8"/>
<line x1="132.6" y1="115.1" x2="132.6" y2="116.1" stroke="#ccc" stroke-width="0.8"/>
<line x1="133.7" y1="115.1" x2="133.7" y2="116.1" stroke="#ccc" stroke-width="0.8"/>
<line x1="140.4" y1="115.1" x2="140.4" y2="116.1" stroke="#ccc" stroke-width="0.8"/>
<line x1="144.4" y1="115.1" x2="144.4" y2="116.1" stroke="#ccc" stroke-width="0.8"/>
<line x1="147.2" y1="115.1" x2="147.2" y2="116.1" stroke="#ccc" stroke-width="0.8"/>
<line x1="149.3" y1="115.1" x2="149.3" y2="116.1" stroke="#ccc" stroke-width="0.8"/>
<line x1="151.1" y1="115.1" x2="151.1" y2="116.1" stroke="#ccc" stroke-width="0.8"/>
<line x1="152.6" y1="115.1" x2="152.6" y2="116.1" stroke="#ccc" stroke-width="0.8"/>
<line x1="153.9" y1="115.1" x2="153.9" y2="116.1" stroke="#ccc" stroke-width="0.8"/>
<line x1="155.1" y1="115.1" x2="155.1" y2="116.1" stroke="#ccc" stroke-width="0.8"/>
<line x1="156.1" y1="115.1" x2="156.1" y2="116.1" stroke="#ccc" stroke-width="0.8"/>
<line x1="162.9" y1="115.1" x2="162.9" y2="116.1" stroke="#ccc" stroke-width="0.8"/>
<line x1="166.8" y1="115.1" x2="166.8" y2="116.1" stroke="#ccc" stroke-width="0.8"/>
<line x1="169.6" y1="115.1" x2="169.6" y2="116.1" stroke="#ccc" stroke-width="0.8"/>
<line x1="171.8" y1="115.1" x2="171.8" y2="116.1" stroke="#ccc" stroke-width="0.8"/>
<line x1="173.6" y1="115.1" x2="173.6" y2="116.1" stroke="#ccc" stroke-width="0.8"/>
<line x1="175.1" y1="115.1" x2="175.1" y2="116.1" stroke="#ccc" stroke-width="0.8"/>
<line x1="176.4" y1="115.1" x2="176.4" y2="116.1" stroke="#ccc" stroke-width="0.8"/>
<line x1="177.5" y1="115.1" x2="177.5" y2="116.1" stroke="#ccc" stroke-width="0.8"/>
<line x1="178.6" y1="115.1" x2="178.6" y2="116.1" stroke="#ccc" stroke-width="0.8"/>
<line x1="185.3" y1="115.1" x2="185.3" y2="116.1" stroke="#ccc" stroke-width="0.8"/>
<line x1="189.3" y1="115.1" x2="189.3" y2="116.1" stroke="#ccc" stroke-width="0.8"/>
<line x1="192.1" y1="115.1" x2="192.1" y2="116.1" stroke="#ccc" stroke-width="0.8"/>
<line x1="194.2" y1="115.1" x2="194.2" y2="116.1" stroke="#ccc" stroke-width="0.8"/>
<line x1="196.0" y1="115.1" x2="196.0" y2="116.1" stroke="#ccc" stroke-width="0.8"/>
<line x1="197.5" y1="115.1" x2="197.5" y2="116.1" stroke="#ccc" stroke-width="0.8"/>
<line x1="198.8" y1="115.1" x2="198.8" y2="116.1" stroke="#ccc" stroke-width="0.8"/>
<line x1="200.0" y1="115.1" x2="200.0" y2="116.1" stroke="#ccc" stroke-width="0.8"/>
<rect x="111.2" y="29.8" width="89.8" height="82.7" fill="none" stroke="#000" stroke-width="1.4"/>
<line x1="111.2" y1="29.1" x2="111.2" y2="113.2" stroke="#000" stroke-width="1.9"/>
<line x1="104.5" y1="30" x2="104.5" y2="112" stroke="#bbb" stroke-width="0.6" stroke-dasharray="0.8,3"/>
<text x="225.6" y="14.2" font-family="'Liberation Sans', sans-serif" font-size="15.4" font-weight="bold" stroke="#000" stroke-width="0.3" textLength="11.7" lengthAdjust="spacingAndGlyphs">C</text>
<line x1="253.2" y1="25.60000000000001" x2="253.2" y2="153.9" stroke="#000" stroke-width="1.2"/>
<line x1="253.2" y1="153.9" x2="434.2" y2="153.9" stroke="#000" stroke-width="1.2"/>
<line x1="250.2" y1="153.9" x2="253.2" y2="153.9" stroke="#000" stroke-width="1"/>
<text x="247.79999999999998" y="156.3" font-family="'Liberation Sans', sans-serif" font-size="6.7" text-anchor="end" textLength="4.26" lengthAdjust="spacingAndGlyphs" fill="#1a1a1a" stroke="#111" stroke-width="0.3">0</text>
<line x1="250.2" y1="122.0" x2="253.2" y2="122.0" stroke="#000" stroke-width="1"/>
<text x="247.79999999999998" y="124.4" font-family="'Liberation Sans', sans-serif" font-size="6.7" text-anchor="end" textLength="4.26" lengthAdjust="spacingAndGlyphs" fill="#1a1a1a" stroke="#111" stroke-width="0.3">5</text>
<line x1="250.2" y1="90.0" x2="253.2" y2="90.0" stroke="#000" stroke-width="1"/>
<text x="247.79999999999998" y="92.4" font-family="'Liberation Sans', sans-serif" font-size="6.7" text-anchor="end" textLength="8.52" lengthAdjust="spacingAndGlyphs" fill="#1a1a1a" stroke="#111" stroke-width="0.3">10</text>
<line x1="250.2" y1="58.1" x2="253.2" y2="58.1" stroke="#000" stroke-width="1"/>
<text x="247.79999999999998" y="60.5" font-family="'Liberation Sans', sans-serif" font-size="6.7" text-anchor="end" textLength="8.52" lengthAdjust="spacingAndGlyphs" fill="#1a1a1a" stroke="#111" stroke-width="0.3">15</text>
<line x1="250.2" y1="26.1" x2="253.2" y2="26.1" stroke="#000" stroke-width="1"/>
<text x="247.79999999999998" y="28.5" font-family="'Liberation Sans', sans-serif" font-size="6.7" text-anchor="end" textLength="8.52" lengthAdjust="spacingAndGlyphs" fill="#1a1a1a" stroke="#111" stroke-width="0.3">20</text>
<line x1="253.2" y1="153.9" x2="253.2" y2="156.1" stroke="#000" stroke-width="1"/>
<text x="253.2" y="166.6" font-family="'Liberation Sans', sans-serif" font-size="6.7" text-anchor="middle" textLength="4.26" lengthAdjust="spacingAndGlyphs" fill="#1a1a1a" stroke="#111" stroke-width="0.3">0</text>
<line x1="296.2" y1="153.9" x2="296.2" y2="156.1" stroke="#000" stroke-width="1"/>
<text x="296.2" y="166.6" font-family="'Liberation Sans', sans-serif" font-size="6.7" text-anchor="middle" textLength="10.96" lengthAdjust="spacingAndGlyphs" fill="#1a1a1a" stroke="#111" stroke-width="0.3">0.5</text>
<line x1="339.2" y1="153.9" x2="339.2" y2="156.1" stroke="#000" stroke-width="1"/>
<text x="339.2" y="166.6" font-family="'Liberation Sans', sans-serif" font-size="6.7" text-anchor="middle" textLength="4.26" lengthAdjust="spacingAndGlyphs" fill="#1a1a1a" stroke="#111" stroke-width="0.3">1</text>
<line x1="382.2" y1="153.9" x2="382.2" y2="156.1" stroke="#000" stroke-width="1"/>
<text x="382.2" y="166.6" font-family="'Liberation Sans', sans-serif" font-size="6.7" text-anchor="middle" textLength="10.96" lengthAdjust="spacingAndGlyphs" fill="#1a1a1a" stroke="#111" stroke-width="0.3">1.5</text>
<line x1="425.2" y1="153.9" x2="425.2" y2="156.1" stroke="#000" stroke-width="1"/>
<text x="425.2" y="166.6" font-family="'Liberation Sans', sans-serif" font-size="6.7" text-anchor="middle" textLength="4.26" lengthAdjust="spacingAndGlyphs" fill="#1a1a1a" stroke="#111" stroke-width="0.3">2</text>
<text x="320.4" y="177.5" font-family="'Liberation Sans', sans-serif" font-size="9.4" font-weight="bold" stroke="#000" stroke-width="0.3" font-style="italic" textLength="46.0" lengthAdjust="spacingAndGlyphs">nM of p24</text>
<text x="310.8" y="37.6" font-family="'Liberation Sans', sans-serif" font-size="11.4" font-weight="bold" stroke="#000" stroke-width="0.3" font-style="italic" textLength="19.6" lengthAdjust="spacingAndGlyphs">HIV</text>
<text x="329.6" y="40.8" font-family="'Liberation Sans', sans-serif" font-size="6.6" font-weight="bold" stroke="#000" stroke-width="0.3" font-style="italic" textLength="11.2" lengthAdjust="spacingAndGlyphs">MN</text>
<text x="343.0" y="37.6" font-family="'Liberation Sans', sans-serif" font-size="11.4" font-weight="bold" stroke="#000" stroke-width="0.3" font-style="italic" textLength="26.2" lengthAdjust="spacingAndGlyphs">-AT2</text>
<text transform="translate(233.6,143.6) rotate(-90)" font-family="'Liberation Sans', sans-serif" font-weight="bold" stroke="#000" stroke-width="0.25" font-style="italic" font-size="8.2" textLength="124.2" lengthAdjust="spacingAndGlyphs">% TNFα <tspan font-size="5.5" dy="-2.5">+</tspan><tspan dy="2.5"> anti-Gag CD4+ T cells</tspan></text>
<line x1="270.4" y1="100.5" x2="270.4" y2="126.9" stroke="#000" stroke-width="1.1"/><line x1="267.4" y1="100.5" x2="273.4" y2="100.5" stroke="#000" stroke-width="1.1"/><line x1="267.4" y1="126.9" x2="273.4" y2="126.9" stroke="#000" stroke-width="1.1"/>
<line x1="304.8" y1="94.6" x2="304.8" y2="105.0" stroke="#000" stroke-width="1.1"/><line x1="301.8" y1="94.6" x2="307.8" y2="94.6" stroke="#000" stroke-width="1.1"/><line x1="301.8" y1="105.0" x2="307.8" y2="105.0" stroke="#000" stroke-width="1.1"/>
<line x1="425.2" y1="40.7" x2="425.2" y2="72.0" stroke="#000" stroke-width="1.1"/><line x1="422.2" y1="40.7" x2="428.2" y2="40.7" stroke="#000" stroke-width="1.1"/><line x1="422.2" y1="72.0" x2="428.2" y2="72.0" stroke="#000" stroke-width="1.1"/>
<line x1="304.8" y1="116.5" x2="304.8" y2="120.8" stroke="#000" stroke-width="1.1"/><line x1="301.8" y1="116.5" x2="307.8" y2="116.5" stroke="#000" stroke-width="1.1"/><line x1="301.8" y1="120.8" x2="307.8" y2="120.8" stroke="#000" stroke-width="1.1"/>
<line x1="425.2" y1="84.8" x2="425.2" y2="100.9" stroke="#000" stroke-width="1.1"/><line x1="422.2" y1="84.8" x2="428.2" y2="84.8" stroke="#000" stroke-width="1.1"/><line x1="422.2" y1="100.9" x2="428.2" y2="100.9" stroke="#000" stroke-width="1.1"/>
<line x1="253.2" y1="126.6" x2="253.2" y2="141.9" stroke="#000" stroke-width="1.1"/><line x1="250.2" y1="126.6" x2="256.2" y2="126.6" stroke="#000" stroke-width="1.1"/><line x1="250.2" y1="141.9" x2="256.2" y2="141.9" stroke="#000" stroke-width="1.1"/>
<line x1="425.2" y1="111.6" x2="425.2" y2="116.7" stroke="#000" stroke-width="1.1"/><line x1="422.2" y1="111.6" x2="428.2" y2="111.6" stroke="#000" stroke-width="1.1"/><line x1="422.2" y1="116.7" x2="428.2" y2="116.7" stroke="#000" stroke-width="1.1"/>
<polyline points="253.2,135.0 270.4,133.1 304.8,129.9 425.2,111.9" fill="none" stroke="#000" stroke-width="1.2"/>
<polyline points="253.2,135.7 270.4,133.1 304.8,120.9 425.2,101.0" fill="none" stroke="#000" stroke-width="1.2"/>
<polyline points="253.2,129.9 270.4,113.9 304.8,100.4 425.2,56.1" fill="none" stroke="#000" stroke-width="1.2"/>
<circle cx="253.2" cy="135.0" r="3.1" fill="#fff" stroke="#000" stroke-width="1"/>
<circle cx="270.4" cy="133.1" r="3.1" fill="#fff" stroke="#000" stroke-width="1"/>
<circle cx="304.8" cy="129.9" r="3.1" fill="#fff" stroke="#000" stroke-width="1"/>
<circle cx="425.2" cy="111.9" r="3.1" fill="#fff" stroke="#000" stroke-width="1"/>
<circle cx="253.2" cy="135.7" r="3.3" fill="#000" stroke="#000" stroke-width="0.8"/>
<circle cx="270.4" cy="133.1" r="3.3" fill="#000" stroke="#000" stroke-width="0.8"/>
<circle cx="304.8" cy="120.9" r="3.3" fill="#000" stroke="#000" stroke-width="0.8"/>
<circle cx="425.2" cy="101.0" r="3.3" fill="#000" stroke="#000" stroke-width="0.8"/>
<circle cx="253.2" cy="129.9" r="3.1" fill="#d4dcd8" stroke="#000" stroke-width="1"/>
<circle cx="270.4" cy="113.9" r="3.1" fill="#d4dcd8" stroke="#000" stroke-width="1"/>
<circle cx="304.8" cy="100.4" r="3.1" fill="#d4dcd8" stroke="#000" stroke-width="1"/>
<circle cx="425.2" cy="56.1" r="3.1" fill="#d4dcd8" stroke="#000" stroke-width="1"/>
<text x="434.0" y="59.3" font-family="'Liberation Sans', sans-serif" font-size="9.5" font-weight="bold" stroke="#000" stroke-width="0.3" font-style="italic" textLength="70.0" lengthAdjust="spacingAndGlyphs">B-420-DCS WT</text>
<text x="434.0" y="105.2" font-family="'Liberation Sans', sans-serif" font-size="9.5" font-weight="bold" stroke="#000" stroke-width="0.3" font-style="italic" textLength="83.2" lengthAdjust="spacingAndGlyphs">B-420-DCS LL/AA</text>
<text x="434.0" y="115.4" font-family="'Liberation Sans', sans-serif" font-size="9.5" font-weight="bold" stroke="#000" stroke-width="0.3" font-style="italic" textLength="26.5" lengthAdjust="spacingAndGlyphs">B-420</text>
<text x="3.6" y="199.8" font-family="'Liberation Sans', sans-serif" font-size="16.2" font-weight="bold" stroke="#000" stroke-width="0.3" textLength="11.9" lengthAdjust="spacingAndGlyphs">B</text>
<rect x="26.7" y="204.7" width="10.6" height="10.4" fill="#fff" stroke="#444" stroke-width="1.2"/>
<text x="47.8" y="214.2" font-family="'Liberation Sans', sans-serif" font-size="10.6" font-weight="bold" stroke="#000" stroke-width="0.3" font-style="italic" textLength="35.5" lengthAdjust="spacingAndGlyphs">B-BRE</text>
<rect x="96.1" y="204.7" width="10" height="10" fill="#c5d1ce" stroke="#444" stroke-width="1.1"/>
<text x="117.3" y="214.2" font-family="'Liberation Sans', sans-serif" font-size="10.6" font-weight="bold" stroke="#000" stroke-width="0.3" font-style="italic" textLength="82.6" lengthAdjust="spacingAndGlyphs">B-BRE-DCS WT</text>
<rect x="215.0" y="204.5" width="10.8" height="10.8" fill="#000"/>
<text x="236.3" y="215.7" font-family="'Liberation Sans', sans-serif" font-size="10.6" font-weight="bold" stroke="#000" stroke-width="0.3" font-style="italic" textLength="62.8" lengthAdjust="spacingAndGlyphs">B-BRE-DCS</text>
<text x="299.6" y="227.8" font-family="'Liberation Sans', sans-serif" font-size="10.6" font-weight="bold" stroke="#000" stroke-width="0.3" font-style="italic" text-anchor="end" textLength="32.6" lengthAdjust="spacingAndGlyphs">LL/AA</text>
<line x1="34.2" y1="263.2" x2="34.2" y2="377.4" stroke="#000" stroke-width="1.1"/>
<line x1="34.2" y1="377.4" x2="164.0" y2="377.4" stroke="#000" stroke-width="1.1"/>
<line x1="32.2" y1="377.4" x2="34.2" y2="377.4" stroke="#000" stroke-width="0.9"/>
<text x="31.0" y="380.0" font-family="'Liberation Sans', sans-serif" font-size="7.2" text-anchor="end" textLength="4.10" lengthAdjust="spacingAndGlyphs" fill="#1a1a1a" stroke="#111" stroke-width="0.3">0</text>
<line x1="32.2" y1="354.6" x2="34.2" y2="354.6" stroke="#000" stroke-width="0.9"/>
<text x="32.0" y="357.2" font-family="'Liberation Sans', sans-serif" font-size="7.2" text-anchor="end" textLength="8.21" lengthAdjust="spacingAndGlyphs" fill="#1a1a1a" stroke="#111" stroke-width="0.3">40</text>
<line x1="32.2" y1="331.7" x2="34.2" y2="331.7" stroke="#000" stroke-width="0.9"/>
<text x="32.0" y="334.3" font-family="'Liberation Sans', sans-serif" font-size="7.2" text-anchor="end" textLength="8.21" lengthAdjust="spacingAndGlyphs" fill="#1a1a1a" stroke="#111" stroke-width="0.3">80</text>
<line x1="32.2" y1="308.9" x2="34.2" y2="308.9" stroke="#000" stroke-width="0.9"/>
<text x="32.0" y="311.5" font-family="'Liberation Sans', sans-serif" font-size="7.2" text-anchor="end" textLength="12.31" lengthAdjust="spacingAndGlyphs" fill="#1a1a1a" stroke="#111" stroke-width="0.3">120</text>
<line x1="32.2" y1="286.0" x2="34.2" y2="286.0" stroke="#000" stroke-width="0.9"/>
<text x="32.0" y="288.6" font-family="'Liberation Sans', sans-serif" font-size="7.2" text-anchor="end" textLength="12.31" lengthAdjust="spacingAndGlyphs" fill="#1a1a1a" stroke="#111" stroke-width="0.3">160</text>
<line x1="32.2" y1="263.2" x2="34.2" y2="263.2" stroke="#000" stroke-width="0.9"/>
<text x="32.0" y="265.8" font-family="'Liberation Sans', sans-serif" font-size="7.2" text-anchor="end" textLength="12.31" lengthAdjust="spacingAndGlyphs" fill="#1a1a1a" stroke="#111" stroke-width="0.3">200</text>
<line x1="34.2" y1="377.4" x2="34.2" y2="379.2" stroke="#000" stroke-width="0.8"/>
<line x1="77.5" y1="377.4" x2="77.5" y2="379.2" stroke="#000" stroke-width="0.8"/>
<line x1="120.7" y1="377.4" x2="120.7" y2="379.2" stroke="#000" stroke-width="0.8"/>
<line x1="164.0" y1="377.4" x2="164.0" y2="379.2" stroke="#000" stroke-width="0.8"/>
<line x1="55.8" y1="374.2" x2="55.8" y2="375.6" stroke="#222" stroke-width="0.8"/>
<rect x="47.0" y="375.6" width="17.6" height="1.8" fill="#fff" stroke="#222" stroke-width="0.8"/>
<line x1="54.6" y1="374.2" x2="57.0" y2="374.2" stroke="#222" stroke-width="0.8"/>
<line x1="99.1" y1="272.4" x2="99.1" y2="327.1" stroke="#222" stroke-width="0.8"/>
<rect x="90.3" y="299.6" width="17.6" height="77.8" fill="#c5d1ce" stroke="#222" stroke-width="0.8"/>
<line x1="99.1" y1="299.6" x2="99.1" y2="327.1" stroke="#222" stroke-width="0.8"/>
<line x1="97.9" y1="327.1" x2="100.3" y2="327.1" stroke="#222" stroke-width="0.8"/>
<line x1="97.9" y1="272.4" x2="100.3" y2="272.4" stroke="#222" stroke-width="0.8"/>
<line x1="142.4" y1="356.2" x2="142.4" y2="364.0" stroke="#222" stroke-width="0.8"/>
<rect x="133.6" y="364.0" width="17.6" height="13.4" fill="#000" stroke="#222" stroke-width="0.8"/>
<line x1="141.2" y1="356.2" x2="143.6" y2="356.2" stroke="#222" stroke-width="0.8"/>
<line x1="181.5" y1="254.2" x2="181.5" y2="377.7" stroke="#000" stroke-width="1.1"/>
<line x1="181.5" y1="377.7" x2="311" y2="377.7" stroke="#000" stroke-width="1.1"/>
<line x1="179.5" y1="377.7" x2="181.5" y2="377.7" stroke="#000" stroke-width="0.9"/>
<text x="178.3" y="380.3" font-family="'Liberation Sans', sans-serif" font-size="7.2" text-anchor="end" textLength="4.10" lengthAdjust="spacingAndGlyphs" fill="#1a1a1a" stroke="#111" stroke-width="0.3">0</text>
<line x1="179.5" y1="355.1" x2="181.5" y2="355.1" stroke="#000" stroke-width="0.9"/>
<text x="179.3" y="357.7" font-family="'Liberation Sans', sans-serif" font-size="7.2" text-anchor="end" textLength="8.21" lengthAdjust="spacingAndGlyphs" fill="#1a1a1a" stroke="#111" stroke-width="0.3">40</text>
<line x1="179.5" y1="332.5" x2="181.5" y2="332.5" stroke="#000" stroke-width="0.9"/>
<text x="179.3" y="335.1" font-family="'Liberation Sans', sans-serif" font-size="7.2" text-anchor="end" textLength="8.21" lengthAdjust="spacingAndGlyphs" fill="#1a1a1a" stroke="#111" stroke-width="0.3">80</text>
<line x1="179.5" y1="309.8" x2="181.5" y2="309.8" stroke="#000" stroke-width="0.9"/>
<text x="179.3" y="312.4" font-family="'Liberation Sans', sans-serif" font-size="7.2" text-anchor="end" textLength="12.31" lengthAdjust="spacingAndGlyphs" fill="#1a1a1a" stroke="#111" stroke-width="0.3">120</text>
<line x1="179.5" y1="287.2" x2="181.5" y2="287.2" stroke="#000" stroke-width="0.9"/>
<text x="179.3" y="289.8" font-family="'Liberation Sans', sans-serif" font-size="7.2" text-anchor="end" textLength="12.31" lengthAdjust="spacingAndGlyphs" fill="#1a1a1a" stroke="#111" stroke-width="0.3">160</text>
<line x1="179.5" y1="264.6" x2="181.5" y2="264.6" stroke="#000" stroke-width="0.9"/>
<text x="179.3" y="267.2" font-family="'Liberation Sans', sans-serif" font-size="7.2" text-anchor="end" textLength="12.31" lengthAdjust="spacingAndGlyphs" fill="#1a1a1a" stroke="#111" stroke-width="0.3">200</text>
<line x1="181.5" y1="377.7" x2="181.5" y2="379.5" stroke="#000" stroke-width="0.8"/>
<line x1="224.7" y1="377.7" x2="224.7" y2="379.5" stroke="#000" stroke-width="0.8"/>
<line x1="267.8" y1="377.7" x2="267.8" y2="379.5" stroke="#000" stroke-width="0.8"/>
<line x1="311.0" y1="377.7" x2="311.0" y2="379.5" stroke="#000" stroke-width="0.8"/>
<line x1="203.1" y1="367.5" x2="203.1" y2="370.2" stroke="#222" stroke-width="0.8"/>
<rect x="194.3" y="368.8" width="17.6" height="8.9" fill="#fff" stroke="#222" stroke-width="0.8"/>
<line x1="203.1" y1="368.8" x2="203.1" y2="370.2" stroke="#222" stroke-width="0.8"/>
<line x1="201.9" y1="370.2" x2="204.3" y2="370.2" stroke="#222" stroke-width="0.8"/>
<line x1="201.9" y1="367.5" x2="204.3" y2="367.5" stroke="#222" stroke-width="0.8"/>
<line x1="246.2" y1="258.4" x2="246.2" y2="289.3" stroke="#222" stroke-width="0.8"/>
<rect x="237.4" y="273.7" width="17.6" height="104.0" fill="#c5d1ce" stroke="#222" stroke-width="0.8"/>
<line x1="246.2" y1="273.7" x2="246.2" y2="289.3" stroke="#222" stroke-width="0.8"/>
<line x1="245.1" y1="289.3" x2="247.4" y2="289.3" stroke="#222" stroke-width="0.8"/>
<line x1="245.1" y1="258.4" x2="247.4" y2="258.4" stroke="#222" stroke-width="0.8"/>
<line x1="289.4" y1="366.3" x2="289.4" y2="372.3" stroke="#222" stroke-width="0.8"/>
<rect x="280.6" y="372.3" width="17.6" height="5.4" fill="#000" stroke="#222" stroke-width="0.8"/>
<line x1="288.2" y1="366.3" x2="290.6" y2="366.3" stroke="#222" stroke-width="0.8"/>
<line x1="350" y1="262.9" x2="350" y2="376.9" stroke="#000" stroke-width="1.1"/>
<line x1="350" y1="376.9" x2="479.3" y2="376.9" stroke="#000" stroke-width="1.1"/>
<line x1="348" y1="376.9" x2="350" y2="376.9" stroke="#000" stroke-width="0.9"/>
<text x="346.8" y="379.5" font-family="'Liberation Sans', sans-serif" font-size="7.2" text-anchor="end" textLength="4.10" lengthAdjust="spacingAndGlyphs" fill="#1a1a1a" stroke="#111" stroke-width="0.3">0</text>
<line x1="348" y1="354.1" x2="350" y2="354.1" stroke="#000" stroke-width="0.9"/>
<text x="347.8" y="356.7" font-family="'Liberation Sans', sans-serif" font-size="7.2" text-anchor="end" textLength="8.21" lengthAdjust="spacingAndGlyphs" fill="#1a1a1a" stroke="#111" stroke-width="0.3">40</text>
<line x1="348" y1="331.3" x2="350" y2="331.3" stroke="#000" stroke-width="0.9"/>
<text x="347.8" y="333.9" font-family="'Liberation Sans', sans-serif" font-size="7.2" text-anchor="end" textLength="8.21" lengthAdjust="spacingAndGlyphs" fill="#1a1a1a" stroke="#111" stroke-width="0.3">80</text>
<line x1="348" y1="308.5" x2="350" y2="308.5" stroke="#000" stroke-width="0.9"/>
<text x="347.8" y="311.1" font-family="'Liberation Sans', sans-serif" font-size="7.2" text-anchor="end" textLength="12.31" lengthAdjust="spacingAndGlyphs" fill="#1a1a1a" stroke="#111" stroke-width="0.3">120</text>
<line x1="348" y1="285.7" x2="350" y2="285.7" stroke="#000" stroke-width="0.9"/>
<text x="347.8" y="288.3" font-family="'Liberation Sans', sans-serif" font-size="7.2" text-anchor="end" textLength="12.31" lengthAdjust="spacingAndGlyphs" fill="#1a1a1a" stroke="#111" stroke-width="0.3">160</text>
<line x1="348" y1="262.9" x2="350" y2="262.9" stroke="#000" stroke-width="0.9"/>
<text x="347.8" y="265.5" font-family="'Liberation Sans', sans-serif" font-size="7.2" text-anchor="end" textLength="12.31" lengthAdjust="spacingAndGlyphs" fill="#1a1a1a" stroke="#111" stroke-width="0.3">200</text>
<line x1="350.0" y1="376.9" x2="350.0" y2="378.7" stroke="#000" stroke-width="0.8"/>
<line x1="393.1" y1="376.9" x2="393.1" y2="378.7" stroke="#000" stroke-width="0.8"/>
<line x1="436.2" y1="376.9" x2="436.2" y2="378.7" stroke="#000" stroke-width="0.8"/>
<line x1="479.3" y1="376.9" x2="479.3" y2="378.7" stroke="#000" stroke-width="0.8"/>
<line x1="371.6" y1="295.5" x2="371.6" y2="322.0" stroke="#222" stroke-width="0.8"/>
<rect x="362.8" y="309.3" width="17.6" height="67.6" fill="#fff" stroke="#222" stroke-width="0.8"/>
<line x1="371.6" y1="309.3" x2="371.6" y2="322.0" stroke="#222" stroke-width="0.8"/>
<line x1="370.4" y1="322.0" x2="372.8" y2="322.0" stroke="#222" stroke-width="0.8"/>
<line x1="370.4" y1="295.5" x2="372.8" y2="295.5" stroke="#222" stroke-width="0.8"/>
<line x1="414.6" y1="276.8" x2="414.6" y2="294.3" stroke="#222" stroke-width="0.8"/>
<rect x="405.8" y="285.3" width="17.6" height="91.6" fill="#c5d1ce" stroke="#222" stroke-width="0.8"/>
<line x1="414.6" y1="285.3" x2="414.6" y2="294.3" stroke="#222" stroke-width="0.8"/>
<line x1="413.4" y1="294.3" x2="415.8" y2="294.3" stroke="#222" stroke-width="0.8"/>
<line x1="413.4" y1="276.8" x2="415.8" y2="276.8" stroke="#222" stroke-width="0.8"/>
<line x1="457.8" y1="301.2" x2="457.8" y2="312.9" stroke="#222" stroke-width="0.8"/>
<rect x="448.9" y="312.9" width="17.6" height="64.0" fill="#000" stroke="#222" stroke-width="0.8"/>
<line x1="456.6" y1="301.2" x2="458.9" y2="301.2" stroke="#222" stroke-width="0.8"/>
<text x="65.6" y="251.5" font-family="'Liberation Sans', sans-serif" font-size="12.6" font-weight="bold" stroke="#000" stroke-width="0.3" font-style="italic" textLength="22.6" lengthAdjust="spacingAndGlyphs">HIV</text>
<text x="88.0" y="255.2" font-family="'Liberation Sans', sans-serif" font-size="8.0" font-weight="bold" stroke="#000" stroke-width="0.3" font-style="italic" textLength="13.0" lengthAdjust="spacingAndGlyphs">MN</text>
<text x="103.6" y="251.5" font-family="'Liberation Sans', sans-serif" font-size="12.6" font-weight="bold" stroke="#000" stroke-width="0.3" font-style="italic" textLength="28.8" lengthAdjust="spacingAndGlyphs">-AT2</text>
<text x="228.2" y="251.5" font-family="'Liberation Sans', sans-serif" font-size="12.6" font-weight="bold" stroke="#000" stroke-width="0.3" font-style="italic" textLength="22.0" lengthAdjust="spacingAndGlyphs">HIV</text>
<text x="250.6" y="255.2" font-family="'Liberation Sans', sans-serif" font-size="8.0" font-weight="bold" stroke="#000" stroke-width="0.3" font-style="italic" textLength="13.6" lengthAdjust="spacingAndGlyphs">Bru</text>
<text x="385.4" y="251.2" font-family="'Liberation Sans', sans-serif" font-size="12.4" font-weight="bold" stroke="#000" stroke-width="0.3" font-style="italic" textLength="57.0" lengthAdjust="spacingAndGlyphs">gag1 pep</text>
<text transform="translate(10.8,392.4) rotate(-90)" font-family="'Liberation Sans', sans-serif" font-weight="bold" stroke="#000" stroke-width="0.25" font-style="italic" font-size="8.8" textLength="188.2" lengthAdjust="spacingAndGlyphs">IFNγ<tspan font-size="6" dy="-3">+</tspan><tspan dy="3"> cells for 2500 anti-Gag CD4</tspan><tspan font-size="6" dy="-3">+</tspan><tspan dy="3"> T cells</tspan></text>
<text transform="translate(325.4,390.4) rotate(-90)" font-family="'Liberation Sans', sans-serif" font-weight="bold" stroke="#000" stroke-width="0.25" font-style="italic" font-size="8.8" textLength="181.4" lengthAdjust="spacingAndGlyphs">IFNγ<tspan font-size="6" dy="-3">+</tspan><tspan dy="3"> cells for 500 anti-Gag CD4</tspan><tspan font-size="6" dy="-3">+</tspan><tspan dy="3"> T cells</tspan></text>
</svg>
</body></html>
